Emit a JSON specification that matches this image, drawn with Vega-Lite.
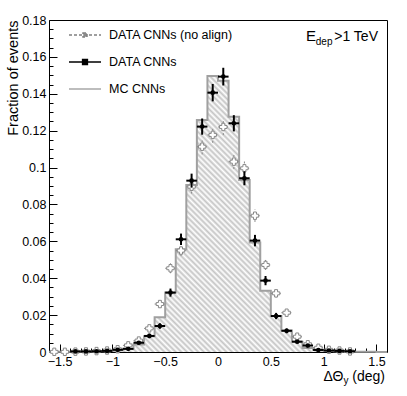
{
  "$schema": "https://vega.github.io/schema/vega-lite/v6.json",
  "width": 338,
  "height": 332,
  "autosize": {"type": "none"},
  "padding": {"left": 49, "top": 20, "right": 20, "bottom": 44},
  "background": "white",
  "config": {
    "view": {"stroke": "black", "strokeWidth": 1},
    "font": "Liberation Sans",
    "axis": {"labelFont": "Liberation Sans", "titleFont": "Liberation Sans", "labelColor": "black", "titleColor": "black", "tickColor": "black", "domain": false, "grid": false, "labelFlush": false}
  },
  "datasets": {
    "mc": [
      {"edge": -1.6, "mc": 0.0001}, {"edge": -1.5, "mc": 0.0002}, {"edge": -1.4, "mc": 0.0002}, {"edge": -1.3, "mc": 0.0003},
      {"edge": -1.2, "mc": 0.0004}, {"edge": -1.1, "mc": 0.0006}, {"edge": -1.0, "mc": 0.0010}, {"edge": -0.9, "mc": 0.0017},
      {"edge": -0.8, "mc": 0.0040}, {"edge": -0.7, "mc": 0.0085}, {"edge": -0.6, "mc": 0.0188}, {"edge": -0.5, "mc": 0.0323},
      {"edge": -0.4, "mc": 0.0557}, {"edge": -0.3, "mc": 0.0906}, {"edge": -0.2, "mc": 0.1258}, {"edge": -0.1, "mc": 0.1497},
      {"edge": 0.0, "mc": 0.1470}, {"edge": 0.1, "mc": 0.1276}, {"edge": 0.2, "mc": 0.0933}, {"edge": 0.3, "mc": 0.0593},
      {"edge": 0.4, "mc": 0.0332}, {"edge": 0.5, "mc": 0.0195}, {"edge": 0.6, "mc": 0.0116}, {"edge": 0.7, "mc": 0.0056},
      {"edge": 0.8, "mc": 0.0022}, {"edge": 0.9, "mc": 0.0012}, {"edge": 1.0, "mc": 0.0007}, {"edge": 1.1, "mc": 0.0004},
      {"edge": 1.2, "mc": 0.0002}, {"edge": 1.3, "mc": 0.0001}, {"edge": 1.4, "mc": 0.0001}, {"edge": 1.5, "mc": 0.0},
      {"edge": 1.6, "mc": 0.0}
    ],
    "cnn": [
      {"x0": -1.4, "x1": -1.3, "xc": -1.35, "v": 0.0003, "e": 0.0002},
      {"x0": -1.3, "x1": -1.2, "xc": -1.25, "v": 0.0003, "e": 0.0002},
      {"x0": -1.2, "x1": -1.1, "xc": -1.15, "v": 0.0004, "e": 0.0002},
      {"x0": -1.1, "x1": -1.0, "xc": -1.05, "v": 0.0006, "e": 0.0003},
      {"x0": -1.0, "x1": -0.9, "xc": -0.95, "v": 0.0012, "e": 0.0004},
      {"x0": -0.9, "x1": -0.8, "xc": -0.85, "v": 0.0017, "e": 0.0005},
      {"x0": -0.8, "x1": -0.7, "xc": -0.75, "v": 0.0050, "e": 0.0009},
      {"x0": -0.7, "x1": -0.6, "xc": -0.65, "v": 0.0087, "e": 0.0012},
      {"x0": -0.6, "x1": -0.5, "xc": -0.55, "v": 0.0141, "e": 0.0015},
      {"x0": -0.5, "x1": -0.4, "xc": -0.45, "v": 0.0322, "e": 0.0022},
      {"x0": -0.4, "x1": -0.3, "xc": -0.35, "v": 0.0611, "e": 0.0031},
      {"x0": -0.3, "x1": -0.2, "xc": -0.25, "v": 0.0929, "e": 0.0038},
      {"x0": -0.2, "x1": -0.1, "xc": -0.15, "v": 0.1222, "e": 0.0044},
      {"x0": -0.1, "x1": 0.0, "xc": -0.05, "v": 0.1406, "e": 0.0047},
      {"x0": 0.0, "x1": 0.1, "xc": 0.05, "v": 0.1493, "e": 0.0048},
      {"x0": 0.1, "x1": 0.2, "xc": 0.15, "v": 0.1240, "e": 0.0044},
      {"x0": 0.2, "x1": 0.3, "xc": 0.25, "v": 0.0942, "e": 0.0038},
      {"x0": 0.3, "x1": 0.4, "xc": 0.35, "v": 0.0604, "e": 0.0031},
      {"x0": 0.4, "x1": 0.5, "xc": 0.45, "v": 0.0387, "e": 0.0025},
      {"x0": 0.5, "x1": 0.6, "xc": 0.55, "v": 0.0195, "e": 0.0017},
      {"x0": 0.6, "x1": 0.7, "xc": 0.65, "v": 0.0115, "e": 0.0013},
      {"x0": 0.7, "x1": 0.8, "xc": 0.75, "v": 0.0056, "e": 0.0009},
      {"x0": 0.8, "x1": 0.9, "xc": 0.85, "v": 0.0035, "e": 0.0007},
      {"x0": 0.9, "x1": 1.0, "xc": 0.95, "v": 0.0011, "e": 0.0004},
      {"x0": 1.0, "x1": 1.1, "xc": 1.05, "v": 0.0008, "e": 0.0004},
      {"x0": 1.1, "x1": 1.2, "xc": 1.15, "v": 0.0006, "e": 0.0003},
      {"x0": 1.2, "x1": 1.3, "xc": 1.25, "v": 0.0004, "e": 0.0003}
    ],
    "noalign": [
      {"x0": -1.6, "x1": -1.5, "xc": -1.55, "v": 0.0001, "e": 0.0001},
      {"x0": -1.5, "x1": -1.4, "xc": -1.45, "v": 0.0001, "e": 0.0001},
      {"x0": -1.4, "x1": -1.3, "xc": -1.35, "v": 0.0002, "e": 0.0001},
      {"x0": -1.3, "x1": -1.2, "xc": -1.25, "v": 0.0003, "e": 0.0002},
      {"x0": -1.2, "x1": -1.1, "xc": -1.15, "v": 0.0005, "e": 0.0002},
      {"x0": -1.1, "x1": -1.0, "xc": -1.05, "v": 0.0008, "e": 0.0003},
      {"x0": -1.0, "x1": -0.9, "xc": -0.95, "v": 0.0015, "e": 0.0005},
      {"x0": -0.9, "x1": -0.8, "xc": -0.85, "v": 0.0036, "e": 0.0007},
      {"x0": -0.8, "x1": -0.7, "xc": -0.75, "v": 0.0062, "e": 0.0010},
      {"x0": -0.7, "x1": -0.6, "xc": -0.65, "v": 0.0128, "e": 0.0014},
      {"x0": -0.6, "x1": -0.5, "xc": -0.55, "v": 0.0260, "e": 0.0020},
      {"x0": -0.5, "x1": -0.4, "xc": -0.45, "v": 0.0454, "e": 0.0027},
      {"x0": -0.4, "x1": -0.3, "xc": -0.35, "v": 0.0550, "e": 0.0030},
      {"x0": -0.3, "x1": -0.2, "xc": -0.25, "v": 0.0896, "e": 0.0037},
      {"x0": -0.2, "x1": -0.1, "xc": -0.15, "v": 0.1113, "e": 0.0042},
      {"x0": -0.1, "x1": 0.0, "xc": -0.05, "v": 0.1177, "e": 0.0043},
      {"x0": 0.0, "x1": 0.1, "xc": 0.05, "v": 0.1220, "e": 0.0044},
      {"x0": 0.1, "x1": 0.2, "xc": 0.15, "v": 0.1032, "e": 0.0040},
      {"x0": 0.2, "x1": 0.3, "xc": 0.25, "v": 0.0996, "e": 0.0039},
      {"x0": 0.3, "x1": 0.4, "xc": 0.35, "v": 0.0739, "e": 0.0034},
      {"x0": 0.4, "x1": 0.5, "xc": 0.45, "v": 0.0472, "e": 0.0027},
      {"x0": 0.5, "x1": 0.6, "xc": 0.55, "v": 0.0318, "e": 0.0022},
      {"x0": 0.6, "x1": 0.7, "xc": 0.65, "v": 0.0213, "e": 0.0018},
      {"x0": 0.7, "x1": 0.8, "xc": 0.75, "v": 0.0083, "e": 0.0011},
      {"x0": 0.8, "x1": 0.9, "xc": 0.85, "v": 0.0042, "e": 0.0008},
      {"x0": 0.9, "x1": 1.0, "xc": 0.95, "v": 0.0023, "e": 0.0006},
      {"x0": 1.0, "x1": 1.1, "xc": 1.05, "v": 0.0012, "e": 0.0004},
      {"x0": 1.1, "x1": 1.2, "xc": 1.15, "v": 0.0008, "e": 0.0004},
      {"x0": 1.2, "x1": 1.3, "xc": 1.25, "v": 0.0003, "e": 0.0002}
    ]
  },
  "layer": [
    {
      "data": {"name": "mc"},
      "mark": {"type": "area", "interpolate": "step-after", "line": false,
        "fill": {"gradient": "linear", "x1": 0, "y1": 1, "x2": 1, "y2": 0.1834, "stops": [
{"offset":0,"color":"#fff"},{"offset":0.005,"color":"#c4c4c4"},{"offset":0.01,"color":"#fff"},{"offset":0.015,"color":"#c4c4c4"},{"offset":0.02,"color":"#fff"},{"offset":0.025,"color":"#c4c4c4"},{"offset":0.03,"color":"#fff"},{"offset":0.035,"color":"#c4c4c4"},{"offset":0.04,"color":"#fff"},{"offset":0.045,"color":"#c4c4c4"},
{"offset":0.05,"color":"#fff"},{"offset":0.055,"color":"#c4c4c4"},{"offset":0.06,"color":"#fff"},{"offset":0.065,"color":"#c4c4c4"},{"offset":0.07,"color":"#fff"},{"offset":0.075,"color":"#c4c4c4"},{"offset":0.08,"color":"#fff"},{"offset":0.085,"color":"#c4c4c4"},{"offset":0.09,"color":"#fff"},{"offset":0.095,"color":"#c4c4c4"},
{"offset":0.1,"color":"#fff"},{"offset":0.105,"color":"#c4c4c4"},{"offset":0.11,"color":"#fff"},{"offset":0.115,"color":"#c4c4c4"},{"offset":0.12,"color":"#fff"},{"offset":0.125,"color":"#c4c4c4"},{"offset":0.13,"color":"#fff"},{"offset":0.135,"color":"#c4c4c4"},{"offset":0.14,"color":"#fff"},{"offset":0.145,"color":"#c4c4c4"},
{"offset":0.15,"color":"#fff"},{"offset":0.155,"color":"#c4c4c4"},{"offset":0.16,"color":"#fff"},{"offset":0.165,"color":"#c4c4c4"},{"offset":0.17,"color":"#fff"},{"offset":0.175,"color":"#c4c4c4"},{"offset":0.18,"color":"#fff"},{"offset":0.185,"color":"#c4c4c4"},{"offset":0.19,"color":"#fff"},{"offset":0.195,"color":"#c4c4c4"},
{"offset":0.2,"color":"#fff"},{"offset":0.205,"color":"#c4c4c4"},{"offset":0.21,"color":"#fff"},{"offset":0.215,"color":"#c4c4c4"},{"offset":0.22,"color":"#fff"},{"offset":0.225,"color":"#c4c4c4"},{"offset":0.23,"color":"#fff"},{"offset":0.235,"color":"#c4c4c4"},{"offset":0.24,"color":"#fff"},{"offset":0.245,"color":"#c4c4c4"},
{"offset":0.25,"color":"#fff"},{"offset":0.255,"color":"#c4c4c4"},{"offset":0.26,"color":"#fff"},{"offset":0.265,"color":"#c4c4c4"},{"offset":0.27,"color":"#fff"},{"offset":0.275,"color":"#c4c4c4"},{"offset":0.28,"color":"#fff"},{"offset":0.285,"color":"#c4c4c4"},{"offset":0.29,"color":"#fff"},{"offset":0.295,"color":"#c4c4c4"},
{"offset":0.3,"color":"#fff"},{"offset":0.305,"color":"#c4c4c4"},{"offset":0.31,"color":"#fff"},{"offset":0.315,"color":"#c4c4c4"},{"offset":0.32,"color":"#fff"},{"offset":0.325,"color":"#c4c4c4"},{"offset":0.33,"color":"#fff"},{"offset":0.335,"color":"#c4c4c4"},{"offset":0.34,"color":"#fff"},{"offset":0.345,"color":"#c4c4c4"},
{"offset":0.35,"color":"#fff"},{"offset":0.355,"color":"#c4c4c4"},{"offset":0.36,"color":"#fff"},{"offset":0.365,"color":"#c4c4c4"},{"offset":0.37,"color":"#fff"},{"offset":0.375,"color":"#c4c4c4"},{"offset":0.38,"color":"#fff"},{"offset":0.385,"color":"#c4c4c4"},{"offset":0.39,"color":"#fff"},{"offset":0.395,"color":"#c4c4c4"},
{"offset":0.4,"color":"#fff"},{"offset":0.405,"color":"#c4c4c4"},{"offset":0.41,"color":"#fff"},{"offset":0.415,"color":"#c4c4c4"},{"offset":0.42,"color":"#fff"},{"offset":0.425,"color":"#c4c4c4"},{"offset":0.43,"color":"#fff"},{"offset":0.435,"color":"#c4c4c4"},{"offset":0.44,"color":"#fff"},{"offset":0.445,"color":"#c4c4c4"},
{"offset":0.45,"color":"#fff"},{"offset":0.455,"color":"#c4c4c4"},{"offset":0.46,"color":"#fff"},{"offset":0.465,"color":"#c4c4c4"},{"offset":0.47,"color":"#fff"},{"offset":0.475,"color":"#c4c4c4"},{"offset":0.48,"color":"#fff"},{"offset":0.485,"color":"#c4c4c4"},{"offset":0.49,"color":"#fff"},{"offset":0.495,"color":"#c4c4c4"},
{"offset":0.5,"color":"#fff"},{"offset":0.505,"color":"#c4c4c4"},{"offset":0.51,"color":"#fff"},{"offset":0.515,"color":"#c4c4c4"},{"offset":0.52,"color":"#fff"},{"offset":0.525,"color":"#c4c4c4"},{"offset":0.53,"color":"#fff"},{"offset":0.535,"color":"#c4c4c4"},{"offset":0.54,"color":"#fff"},{"offset":0.545,"color":"#c4c4c4"},
{"offset":0.55,"color":"#fff"},{"offset":0.555,"color":"#c4c4c4"},{"offset":0.56,"color":"#fff"},{"offset":0.565,"color":"#c4c4c4"},{"offset":0.57,"color":"#fff"},{"offset":0.575,"color":"#c4c4c4"},{"offset":0.58,"color":"#fff"},{"offset":0.585,"color":"#c4c4c4"},{"offset":0.59,"color":"#fff"},{"offset":0.595,"color":"#c4c4c4"},
{"offset":0.6,"color":"#fff"},{"offset":0.605,"color":"#c4c4c4"},{"offset":0.61,"color":"#fff"},{"offset":0.615,"color":"#c4c4c4"},{"offset":0.62,"color":"#fff"},{"offset":0.625,"color":"#c4c4c4"},{"offset":0.63,"color":"#fff"},{"offset":0.635,"color":"#c4c4c4"},{"offset":0.64,"color":"#fff"},{"offset":0.645,"color":"#c4c4c4"},
{"offset":0.65,"color":"#fff"},{"offset":0.655,"color":"#c4c4c4"},{"offset":0.66,"color":"#fff"},{"offset":0.665,"color":"#c4c4c4"},{"offset":0.67,"color":"#fff"},{"offset":0.675,"color":"#c4c4c4"},{"offset":0.68,"color":"#fff"},{"offset":0.685,"color":"#c4c4c4"},{"offset":0.69,"color":"#fff"},{"offset":0.695,"color":"#c4c4c4"},
{"offset":0.7,"color":"#fff"},{"offset":0.705,"color":"#c4c4c4"},{"offset":0.71,"color":"#fff"},{"offset":0.715,"color":"#c4c4c4"},{"offset":0.72,"color":"#fff"},{"offset":0.725,"color":"#c4c4c4"},{"offset":0.73,"color":"#fff"},{"offset":0.735,"color":"#c4c4c4"},{"offset":0.74,"color":"#fff"},{"offset":0.745,"color":"#c4c4c4"},
{"offset":0.75,"color":"#fff"},{"offset":0.755,"color":"#c4c4c4"},{"offset":0.76,"color":"#fff"},{"offset":0.765,"color":"#c4c4c4"},{"offset":0.77,"color":"#fff"},{"offset":0.775,"color":"#c4c4c4"},{"offset":0.78,"color":"#fff"},{"offset":0.785,"color":"#c4c4c4"},{"offset":0.79,"color":"#fff"},{"offset":0.795,"color":"#c4c4c4"},
{"offset":0.8,"color":"#fff"},{"offset":0.805,"color":"#c4c4c4"},{"offset":0.81,"color":"#fff"},{"offset":0.815,"color":"#c4c4c4"},{"offset":0.82,"color":"#fff"},{"offset":0.825,"color":"#c4c4c4"},{"offset":0.83,"color":"#fff"},{"offset":0.835,"color":"#c4c4c4"},{"offset":0.84,"color":"#fff"},{"offset":0.845,"color":"#c4c4c4"},
{"offset":0.85,"color":"#fff"},{"offset":0.855,"color":"#c4c4c4"},{"offset":0.86,"color":"#fff"},{"offset":0.865,"color":"#c4c4c4"},{"offset":0.87,"color":"#fff"},{"offset":0.875,"color":"#c4c4c4"},{"offset":0.88,"color":"#fff"},{"offset":0.885,"color":"#c4c4c4"},{"offset":0.89,"color":"#fff"},{"offset":0.895,"color":"#c4c4c4"},
{"offset":0.9,"color":"#fff"}
        ]}},
      "encoding": {
        "x": {"field": "edge", "type": "quantitative", "scale": {"domain": [-1.6, 1.6], "nice": false, "zero": false},
          "axis": {"orient": "bottom", "values": [-1.4, -1.3, -1.2, -1.1, -0.9, -0.8, -0.7, -0.6, -0.4, -0.3, -0.2, -0.1, 0.1, 0.2, 0.3, 0.4, 0.6, 0.7, 0.8, 0.9, 1.1, 1.2, 1.3, 1.4],
            "tickSize": -4, "labels": false, "title": null, "domain": false, "grid": false}},
        "y": {"field": "mc", "type": "quantitative", "scale": {"domain": [0, 0.18], "nice": false},
          "axis": {"orient": "left", "values": [0.005, 0.01, 0.015, 0.025, 0.03, 0.035, 0.045, 0.05, 0.055, 0.065, 0.07, 0.075, 0.085, 0.09, 0.095, 0.105, 0.11, 0.115, 0.125, 0.13, 0.135, 0.145, 0.15, 0.155, 0.165, 0.17, 0.175],
            "tickSize": -4, "labels": false, "title": null, "domain": false, "grid": false}}
      }
    },
    {
      "data": {"name": "mc"},
      "mark": {"type": "line", "interpolate": "step-after", "color": "#a0a0a0", "strokeWidth": 2},
      "encoding": {
        "x": {"field": "edge", "type": "quantitative", "axis": null},
        "y": {"field": "mc", "type": "quantitative", "axis": null}
      }
    },
    {
      "data": {"name": "noalign"},
      "mark": {"type": "errorbar", "rule": {"stroke": "#888888", "strokeWidth": 1, "strokeDash": [2, 2]}},
      "encoding": {
        "x": {"field": "xc", "type": "quantitative", "axis": null},
        "y": {"field": "v", "type": "quantitative", "axis": null},
        "yError": {"field": "e"}
      }
    },
    {
      "data": {"name": "noalign"},
      "mark": {"type": "rule", "stroke": "#888888", "strokeWidth": 1, "strokeDash": [2, 2]},
      "encoding": {
        "x": {"field": "x0", "type": "quantitative", "axis": null},
        "x2": {"field": "x1"},
        "y": {"field": "v", "type": "quantitative", "axis": null}
      }
    },
    {
      "data": {"name": "noalign"},
      "mark": {"type": "point", "shape": "cross", "size": 55, "filled": true, "fill": "white", "stroke": "#888888", "strokeWidth": 1, "opacity": 1},
      "encoding": {
        "x": {"field": "xc", "type": "quantitative", "axis": null},
        "y": {"field": "v", "type": "quantitative", "axis": null}
      }
    },
    {
      "data": {"name": "cnn"},
      "mark": {"type": "errorbar", "rule": {"stroke": "black", "strokeWidth": 2}},
      "encoding": {
        "x": {"field": "xc", "type": "quantitative", "axis": null},
        "y": {"field": "v", "type": "quantitative", "axis": null},
        "yError": {"field": "e"}
      }
    },
    {
      "data": {"name": "cnn"},
      "mark": {"type": "rule", "stroke": "black", "strokeWidth": 2},
      "encoding": {
        "x": {"field": "x0", "type": "quantitative", "axis": null},
        "x2": {"field": "x1"},
        "y": {"field": "v", "type": "quantitative", "axis": null}
      }
    },
    {
      "data": {"name": "cnn"},
      "mark": {"type": "point", "shape": "circle", "size": 22, "filled": true, "color": "black", "opacity": 1},
      "encoding": {
        "x": {"field": "xc", "type": "quantitative",
          "axis": {"orient": "bottom", "values": [-1.5, -1, -0.5, 0, 0.5, 1, 1.5], "format": "~g", "tickSize": -8, "labelPadding": 11, "labelFontSize": 12.5, "title": null, "domain": false, "grid": false}},
        "y": {"field": "v", "type": "quantitative",
          "axis": {"orient": "left", "values": [0, 0.02, 0.04, 0.06, 0.08, 0.1, 0.12, 0.14, 0.16, 0.18], "format": "~g", "tickSize": -8, "labelPadding": 11, "labelFontSize": 12.5,
            "title": "Fraction of events", "titleFontSize": 14.5, "titleFontWeight": "normal", "titleAngle": -90, "titleX": -32, "titleY": 0, "titleAlign": "right", "titleBaseline": "alphabetic", "domain": false, "grid": false}}
      }
    },
    {
      "data": {"values": [{}]},
      "mark": {"type": "text", "text": "E", "align": "right", "baseline": "alphabetic", "fontSize": 15, "dx": -71, "font": "Liberation Sans", "color": "black"},
      "encoding": {"x": {"datum": 1.6, "axis": null}, "y": {"datum": 0.1686, "axis": null}}
    },
    {
      "data": {"values": [{}]},
      "mark": {"type": "text", "text": "dep", "align": "right", "baseline": "alphabetic", "fontSize": 10, "dx": -54.5, "dy": 4, "font": "Liberation Sans", "color": "black"},
      "encoding": {"x": {"datum": 1.6, "axis": null}, "y": {"datum": 0.1686, "axis": null}}
    },
    {
      "data": {"values": [{}]},
      "mark": {"type": "text", "text": ">1 TeV", "align": "right", "baseline": "alphabetic", "fontSize": 14, "dx": -9, "font": "Liberation Sans", "color": "black"},
      "encoding": {"x": {"datum": 1.6, "axis": null}, "y": {"datum": 0.1686, "axis": null}}
    },
    {
      "data": {"values": [{}]},
      "mark": {"type": "text", "text": "(deg)", "align": "right", "baseline": "alphabetic", "fontSize": 14, "dx": -2, "font": "Liberation Sans", "color": "black"},
      "encoding": {"x": {"datum": 1.6, "axis": null}, "y": {"datum": -0.0157, "axis": null}}
    },
    {
      "data": {"values": [{}]},
      "mark": {"type": "text", "text": "y", "align": "right", "baseline": "alphabetic", "fontSize": 10, "dx": -38.5, "dy": 3, "font": "Liberation Sans", "color": "black"},
      "encoding": {"x": {"datum": 1.6, "axis": null}, "y": {"datum": -0.0157, "axis": null}}
    },
    {
      "data": {"values": [{}]},
      "mark": {"type": "text", "text": "ΔΘ", "align": "right", "baseline": "alphabetic", "fontSize": 14, "dx": -43.5, "font": "Liberation Sans", "color": "black"},
      "encoding": {"x": {"datum": 1.6, "axis": null}, "y": {"datum": -0.0157, "axis": null}}
    },
    {
      "data": {"values": []},
      "mark": {"type": "point", "filled": true, "opacity": 1},
      "encoding": {
        "shape": {"field": "series", "type": "nominal",
          "scale": {"domain": ["DATA CNNs (no align)", "DATA CNNs", "MC CNNs"], "range": ["M-2,0H2M-0.25,-0.25H0.25V0.25H-0.25Z", "M-2,0H2M-0.3,-0.3H0.3V0.3H-0.3Z", "M-2,0H2"]},
          "legend": {"title": null, "orient": "none", "legendX": 27, "legendY": 6, "symbolSize": 256, "labelFontSize": 12.5, "labelFont": "Liberation Sans", "labelColor": "black", "labelOffset": 15, "rowPadding": 11, "padding": 0, "labelLimit": 400}},
        "fill": {"field": "series", "type": "nominal",
          "scale": {"domain": ["DATA CNNs (no align)", "DATA CNNs", "MC CNNs"], "range": ["#aaaaaa", "#000000", "#ffffff"]},
          "legend": {"title": null, "orient": "none", "legendX": 27, "legendY": 6, "symbolSize": 256, "labelFontSize": 12.5, "labelFont": "Liberation Sans", "labelColor": "black", "labelOffset": 15, "rowPadding": 11, "padding": 0, "labelLimit": 400}},
        "stroke": {"field": "series", "type": "nominal",
          "scale": {"domain": ["DATA CNNs (no align)", "DATA CNNs", "MC CNNs"], "range": ["#808080", "#000000", "#a8a8a8"]},
          "legend": {"title": null, "orient": "none", "legendX": 27, "legendY": 6, "symbolSize": 256, "labelFontSize": 12.5, "labelFont": "Liberation Sans", "labelColor": "black", "labelOffset": 15, "rowPadding": 11, "padding": 0, "labelLimit": 400}},
        "strokeDash": {"field": "series", "type": "nominal",
          "scale": {"domain": ["DATA CNNs (no align)", "DATA CNNs", "MC CNNs"], "range": [[3, 2], [1, 0], [1, 0]]},
          "legend": {"title": null, "orient": "none", "legendX": 27, "legendY": 6, "symbolSize": 256, "labelFontSize": 12.5, "labelFont": "Liberation Sans", "labelColor": "black", "labelOffset": 15, "rowPadding": 11, "padding": 0, "labelLimit": 400}}
      }
    }
  ],
  "resolve": {"axis": {"x": "independent", "y": "independent"}}
}
